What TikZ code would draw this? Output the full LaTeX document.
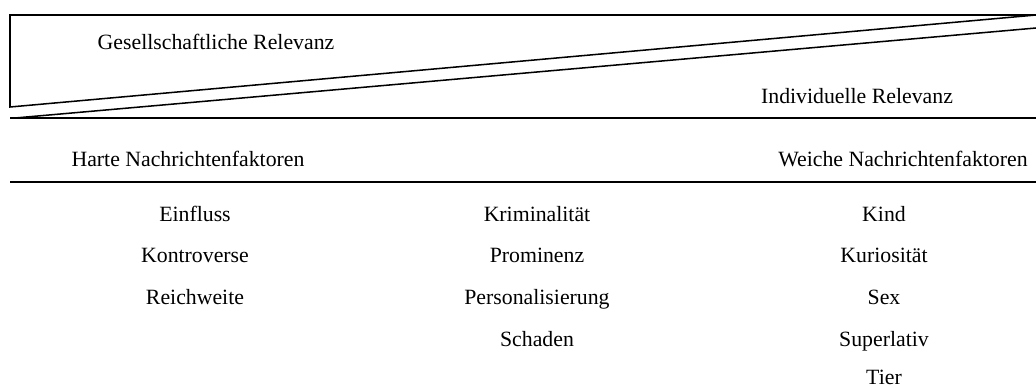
\documentclass[tikz,border=0pt]{standalone}
\usepackage{fontspec}
\setmainfont{Liberation Serif}
\usepackage{tikz}
\usetikzlibrary{positioning}

\begin{document}
\begin{tikzpicture}[
  x=0.03cm, y=-0.03cm,
  edge/.style={line width=1.3pt, line join=miter},
  label/.style={font=\fontsize{18.6}{22}\selectfont, inner sep=0pt, anchor=base},
  item/.style={font=\fontsize{18.6}{22}\selectfont, inner sep=0pt, anchor=base}
]
  \useasboundingbox (0,0) rectangle (1036,387);

  % relevance wedges
  \coordinate (gTL) at (10,15);
  \coordinate (gTR) at (1036,15);
  \coordinate (gBL) at (10,107);
  \coordinate (iTR) at (1036,28);
  \coordinate (iBL) at (15,118);
  \coordinate (iBR) at (1036,118);
  \draw[edge] (gTR) -- (gTL) -- (gBL) -- cycle;
  \draw[edge] (iBL) -- (iTR);
  \draw[edge] (10,118) -- (iBR);

  \node[label] (gesell) at (216,49) {Gesellschaftliche Relevanz};
  \node[label] (indiv) at (857,103) {Individuelle Relevanz};

  % factor headings
  \node[label] (hart) at (188,166) {Harte Nachrichtenfaktoren};
  \node[label] (weich) at (903,166) {Weiche Nachrichtenfaktoren};
  \coordinate (sepL) at (10,182);
  \coordinate (sepR) at (1036,182);
  \draw[edge] (sepL) -- (sepR);

  % columns
  \node[item] (einfluss) at (195,221) {Einfluss};
  \node[item] (kontro) at (195,262) {Kontroverse};
  \node[item] (reich) at (195,304) {Reichweite};

  \node[item] (krimi) at (537,221) {Kriminalität};
  \node[item] (promi) at (537,262) {Prominenz};
  \node[item] (person) at (537,304) {Personalisierung};
  \node[item] (schaden) at (537,346) {Schaden};

  \node[item] (kind) at (884,221) {Kind};
  \node[item] (kurio) at (884,262) {Kuriosität};
  \node[item] (sex) at (884,304) {Sex};
  \node[item] (superl) at (884,346) {Superlativ};
  \node[item] (tier) at (884,384) {Tier};
\end{tikzpicture}
\end{document}
